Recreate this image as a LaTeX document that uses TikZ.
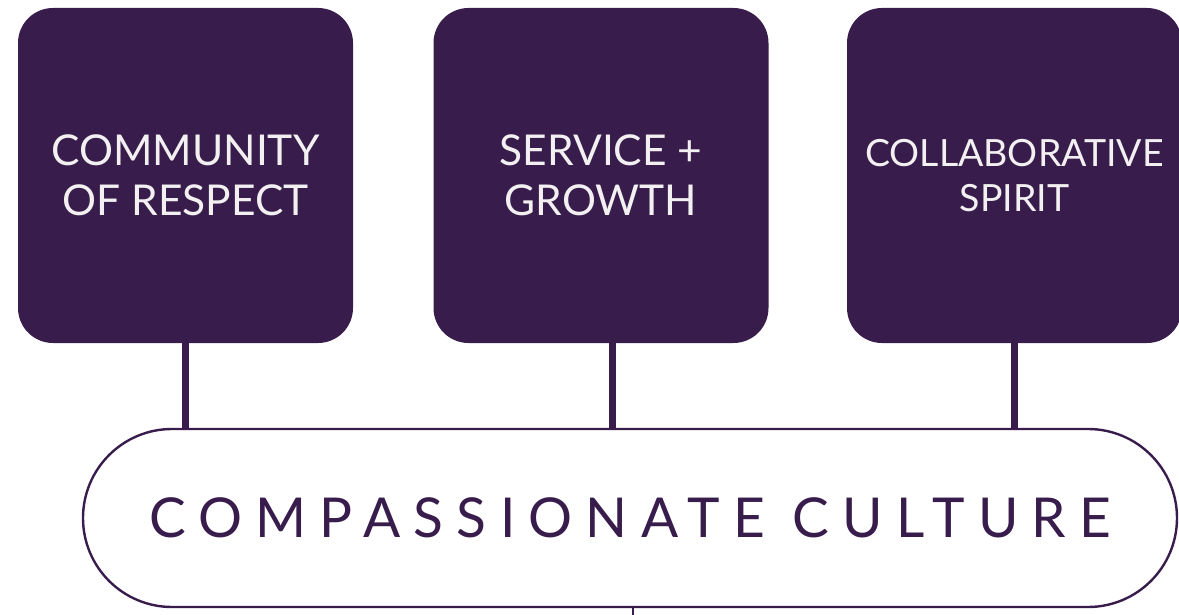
\documentclass[tikz,border=0pt]{standalone}
\usepackage{fontspec}
\setmainfont{Lato}
\usetikzlibrary{positioning}
\definecolor{plum}{HTML}{381C4C}
\definecolor{offwhite}{HTML}{F2F0F0}

\begin{document}
\begin{tikzpicture}[x=1pt,y=-1pt,
    pillar/.style={fill=plum, draw=none, rounded corners=35pt, minimum width=335pt,
      minimum height=335pt, inner sep=0pt, text=offwhite, align=center,
      font=\fontsize{42.5}{50}\selectfont},
    link/.style={draw=plum, line width=7pt},
    base/.style={draw=plum, line width=2.4pt, fill=white, rounded corners=89pt,
      minimum width=1094pt, minimum height=178pt, inner sep=0pt, text=plum}]
    \useasboundingbox (0,0) rectangle (1179,615);

    % the three values
    \node[pillar] (respect) at (185.5,175.5) {COMMUNITY\\OF RESPECT};
    \node[pillar] (service) at (601,175.5) {SERVICE +\\GROWTH};
    \node[pillar, font=\fontsize{37.5}{45}\selectfont] (spirit) at (1014.5,175.5) {COLLABORATIVE\\SPIRIT};

    % the base
    \node[base, font=\fontsize{55}{60}\selectfont\addfontfeature{LetterSpace=24}] (culture) at (630,518)
      {\raisebox{-3.5pt}{COMPASSIONATE CULTURE}};

    \draw[link] (respect.south) -- (respect.south |- culture.north);
    \draw[link] ([xshift=11pt]service.south) -- ([xshift=11pt]service.south |- culture.north);
    \draw[link] (spirit.south) -- (spirit.south |- culture.north);

    \coordinate (stub) at (633,615);
    \draw[draw=plum, line width=2pt] (culture.south -| stub) -- (stub);

    % \draw[help lines, step=50] (0,0) grid (1179,615);
\end{tikzpicture}
\end{document}
